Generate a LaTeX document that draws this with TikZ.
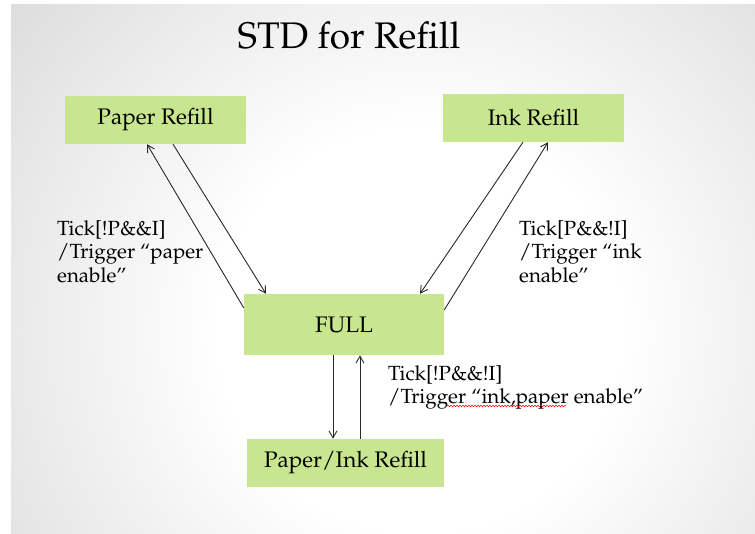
\documentclass[tikz,border=0pt]{standalone}
\usepackage[T1]{fontenc}
\usepackage{mathpazo}
\usetikzlibrary{arrows.meta,decorations.pathmorphing}
\definecolor{stategreen}{RGB}{200,230,143}
\definecolor{wire}{RGB}{40,40,40}
\pgfdeclareradialshading{slidebg}{\pgfpoint{0bp}{0bp}}{%
  color(0bp)=(white); color(9bp)=(white); color(25bp)=(black!15); color(50bp)=(black!15)}
\tikzset{
  statebox/.style={fill=stategreen, draw=none, inner sep=0pt,
    font=\fontsize{22.5}{26}\selectfont},
  trans/.style={draw=wire, line width=0.9pt, -{Straight Barb[length=7pt,width=8pt]}},
  guard/.style={anchor=north west, inner sep=0pt, align=left,
    font=\fontsize{20.5}{23.5}\selectfont},
}
\begin{document}
\begin{tikzpicture}[x=1pt,y=-1pt]
  \useasboundingbox (0,0) rectangle (755,534);
  % slide background
  \begin{scope}
    \clip (11,5) rectangle (755,534);
    \shade[shading=slidebg] (420,330) circle (560);
  \end{scope}

  % title
  \node[anchor=base, inner sep=0pt, font=\fontsize{37}{40}\selectfont] (title) at (349,49) {STD for Refill};

  % states
  \node[statebox, minimum width=181pt, minimum height=48pt] (paper) at (155.5,120) {Paper Refill};
  \node[statebox, minimum width=181pt, minimum height=48pt] (ink) at (533.5,118) {Ink Refill};
  \node[statebox, minimum width=200pt, minimum height=61pt] (full) at (344,324.5) {FULL};
  \node[statebox, minimum width=197pt, minimum height=48pt] (both) at (345.5,463) {Paper/Ink Refill};

  % transitions
  \draw[trans] ([xshift=17.5pt]paper.south) -- ([xshift=-78pt]full.north);
  \draw[trans] ([yshift=16.5pt]full.west) -- ([xshift=-8.5pt]paper.south);
  \draw[trans] ([xshift=-10.5pt]ink.south) -- ([xshift=76pt]full.north);
  \draw[trans] ([yshift=14.5pt]full.east) -- ([xshift=14.5pt]ink.south);
  \draw[trans] ([xshift=-11pt]full.south) -- ([xshift=-11pt]full.south |- both.north);
  \draw[trans] ([xshift=14.5pt]both.north) -- ([xshift=14.5pt]both.north |- full.south);

  % guards and actions
  \node[guard] (lblL) at (57,220) {Tick[!P\&\&I]\\/Trigger ``paper\\enable''};
  \node[guard] (lblR) at (519,220) {Tick[P\&\&!I]\\/Trigger ``ink\\enable''};
  \node[guard] (lblB) at (388,365) {Tick[!P\&\&!I]\\/Trigger ``ink,paper enable''};
  \draw[red, line width=0.5pt, decorate, decoration={snake, amplitude=0.8pt, segment length=3pt}]
    ([shift={(59pt,-41pt)}]lblB.north west) -- ++(119,0);
\end{tikzpicture}
\end{document}
